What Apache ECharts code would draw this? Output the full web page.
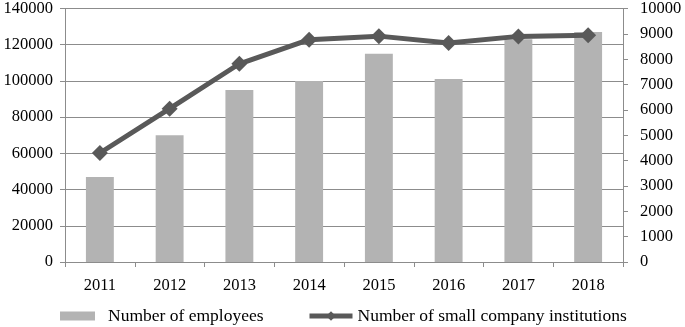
<!DOCTYPE html>
<html>
<head>
<meta charset="utf-8">
<script src="https://cdn.jsdelivr.net/npm/echarts@6/dist/echarts.min.js"></script>
<style>
  html, body { margin: 0; padding: 0; background: #fff; }
  #Chart1 { width: 685px; height: 327px; }
</style>
</head>
<body>
<div id="Chart1"></div>
<script>
// employees vs small company institutions
var years = ["2011", "2012", "2013", "2014", "2015", "2016", "2017", "2018"];
var employees = [47000, 70000, 95000, 100000, 115000, 101000, 123000, 127000];
var institutions = [4300, 6050, 7820, 8770, 8910, 8640, 8900, 8940];
var leftTicks = [0, 140000, 20000];   // min, max, interval
var rightTicks = [0, 10000, 1000];

var font = "Liberation Serif";
var plain = function (v) { return String(v); };
var Chart1 = echarts.init(document.getElementById("Chart1"));
option = {
  animation: false,
  textStyle: { fontFamily: font, color: "#000" },
  grid: { left: 65, right: 62, top: 8, bottom: 65 },
  legend: [
    {
      left: 55,
      top: 302,
      itemWidth: 35,
      itemHeight: 9,
      textStyle: { fontFamily: font, fontSize: 17.5, color: "#000", padding: [0, 0, 0, 8] },
      data: [{ name: "Number of employees", icon: "rect" }]
    },
    {
      left: 302,
      top: 302,
      itemWidth: 43,
      itemHeight: 12,
      lineStyle: { width: 5, color: "#595959" },
      textStyle: { fontFamily: font, fontSize: 17.5, color: "#000" },
      data: [{ name: "Number of small company institutions" }]
    }
  ],
  xAxis: {
    type: "category",
    data: years,
    axisLine: { lineStyle: { color: "#8c8c8c", width: 1 } },
    axisTick: { show: true, length: 5, lineStyle: { color: "#8c8c8c" } },
    axisLabel: { fontFamily: font, fontSize: 16.5, color: "#000", margin: 15 }
  },
  yAxis: [
    {
      type: "value",
      min: leftTicks[0],
      max: leftTicks[1],
      interval: leftTicks[2],
      axisLine: { show: true, lineStyle: { color: "#8c8c8c" } },
      axisTick: { show: true, length: 5, lineStyle: { color: "#8c8c8c" } },
      splitLine: { lineStyle: { color: "#8c8c8c", width: 1 } },
      axisLabel: { fontFamily: font, fontSize: 16.5, color: "#000", margin: 12, formatter: plain }
    },
    {
      type: "value",
      min: rightTicks[0],
      max: rightTicks[1],
      interval: rightTicks[2],
      axisLine: { show: true, lineStyle: { color: "#8c8c8c" } },
      axisTick: { show: true, length: 5, lineStyle: { color: "#8c8c8c" } },
      splitLine: { show: false },
      axisLabel: { fontFamily: font, fontSize: 16.5, color: "#000", margin: 17, formatter: plain }
    }
  ],
  series: [
    {
      name: "Number of employees",
      type: "bar",
      data: employees,
      barWidth: "40%",
      itemStyle: { color: "#b3b3b3" }
    },
    {
      name: "Number of small company institutions",
      type: "line",
      yAxisIndex: 1,
      data: institutions,
      symbol: "diamond",
      symbolSize: 16,
      lineStyle: { color: "#595959", width: 5 },
      itemStyle: { color: "#595959" }
    }
  ]
};

Chart1.setOption(option);
</script>
</body>
</html>
